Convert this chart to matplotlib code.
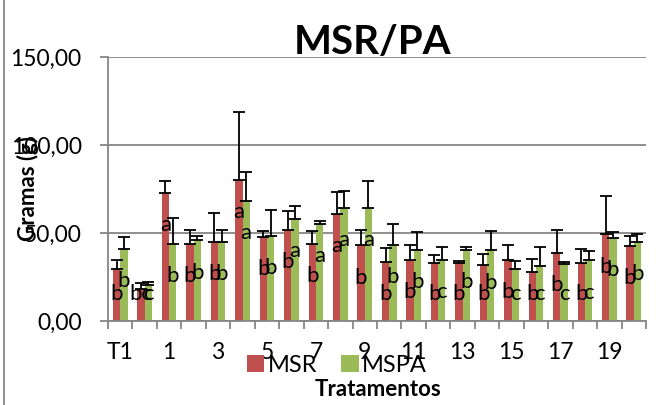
import numpy as np
import matplotlib
matplotlib.use("Agg")
from matplotlib import pyplot as plt
from matplotlib.lines import Line2D

plt.rcParams["font.family"] = ["Lato", "DejaVu Sans"]

# colours like the excel default palette
red = "#C0504D"
green = "#9BBB59"
gray = "#868686"

# data
tratamentos = ["T1", "T2"] + [str(i) for i in range(1, 21)]
msr = [29.5, 18.1, 72.8, 43.9, 44.9, 80.3, 47.7, 51.9, 43.9, 60.9, 43.0,
       33.5, 34.6, 32.7, 32.9, 31.9, 34.6, 28.1, 38.8, 32.7, 49.2, 42.8]
msr_err = [5.3, 3.4, 6.5, 8.0, 16.5, 38.7, 3.3, 10.4, 7.1, 12.5, 8.9,
           7.8, 8.4, 4.6, 1.3, 6.1, 8.8, 7.3, 12.9, 8.2, 21.7, 5.3]
mspa = [41.1, 20.5, 43.9, 45.8, 45.1, 68.1, 48.5, 58.2, 55.3, 64.1, 64.1,
        43.4, 40.5, 34.8, 40.5, 40.1, 29.5, 31.4, 32.3, 34.4, 47.2, 45.1]
mspa_err = [6.6, 1.9, 14.7, 2.7, 6.4, 16.7, 14.8, 7.4, 1.3, 9.7, 15.4,
            11.5, 10.3, 7.2, 1.5, 11.2, 4.5, 10.6, 1.2, 5.5, 3.2, 4.5]
msr_letras = ["b", "bc", "a", "b", "b", "a", "b", "b", "b", "a", "b",
              "b", "b", "b", "b", "b", "b", "b", "b", "b", "b", "b"]
mspa_letras = ["b", "c", "b", "b", "b", "a", "b", "a", "a", "a", "a",
               "b", "b", "c", "b", "b", "c", "c", "c", "c", "b", "b"]
y_ticks = [0, 50, 100, 150]

fig = plt.figure(figsize=(6.59, 4.05), dpi=100)
ax = fig.add_axes([0.1639, 0.2074, 0.8164, 0.6519])

x = np.arange(len(tratamentos))
w = 0.3

# grid behind the bars
ax.set_axisbelow(True)
ax.yaxis.grid(True, color=gray, linewidth=1.3)

ax.bar(x - w / 2, msr, w, color=red, label="MSR", zorder=2)
ax.bar(x + w / 2, mspa, w, color=green, label="MSPA", zorder=2)

# only upper error bars, like excel "plus"
ax.errorbar(x - w / 2, msr, yerr=[np.zeros(len(msr)), msr_err], fmt="none",
            ecolor="black", elinewidth=1.3, capsize=4, capthick=1.3, zorder=3)
ax.errorbar(x + w / 2, mspa, yerr=[np.zeros(len(mspa)), mspa_err], fmt="none",
            ecolor="black", elinewidth=1.3, capsize=4, capthick=1.3, zorder=3)

# letters of the tukey test inside the bars
for i in range(len(x)):
    ax.text(x[i] - w / 2, max(msr[i] - 21.7, 12), msr_letras[i], ha="center",
            va="baseline", fontsize=16, zorder=4)
    ax.text(x[i] + w / 2, max(mspa[i] - 21.7, 12), mspa_letras[i], ha="center",
            va="baseline", fontsize=16, zorder=4)

ax.set_xlim(-0.5, len(tratamentos) - 0.5)
ax.set_ylim(0, 150)
ax.set_yticks(y_ticks)
ax.set_yticklabels([("%.2f" % v).replace(".", ",") for v in y_ticks], fontsize=16.5)
ax.tick_params(axis="y", direction="out", length=6, width=1.3, color=gray, pad=13)

ax.set_xticks(x[::2])
ax.set_xticklabels(tratamentos[::2], fontsize=16.5)
ax.set_xticks(np.arange(-0.5, len(tratamentos)), minor=True)
ax.tick_params(axis="x", which="major", length=0, pad=15)
ax.tick_params(axis="x", which="minor", direction="out", length=6, width=1.3, color=gray)

for s in ["top", "right"]:
    ax.spines[s].set_visible(False)
for s in ["left", "bottom"]:
    ax.spines[s].set_color(gray)
    ax.spines[s].set_linewidth(1.3)

# excel puts the axis title on top of the tick labels
fig.text(28 / 659, 1 - 189 / 405, "Gramas (g)", rotation=90, ha="center",
         va="center", fontsize=16, fontweight="bold")

fig.text(373 / 659, 1 - 43 / 405, "MSR/PA", ha="center", va="center",
         fontsize=29, fontweight="bold")
fig.text(378 / 659, 1 - 389 / 405, "Tratamentos", ha="center", va="center",
         fontsize=16, fontweight="bold")

fig.legend(loc="center", bbox_to_anchor=(337 / 659, 1 - 365 / 405), ncol=2,
           frameon=False, fontsize=17, handlelength=0.75, handleheight=0.75,
           handletextpad=0.15, columnspacing=1.0, borderpad=0)

# left border of the chart area
fig.add_artist(Line2D([4 / 659, 4 / 659], [0, 1], color=gray, linewidth=1.3))

fig.savefig("out.png", dpi=100)
